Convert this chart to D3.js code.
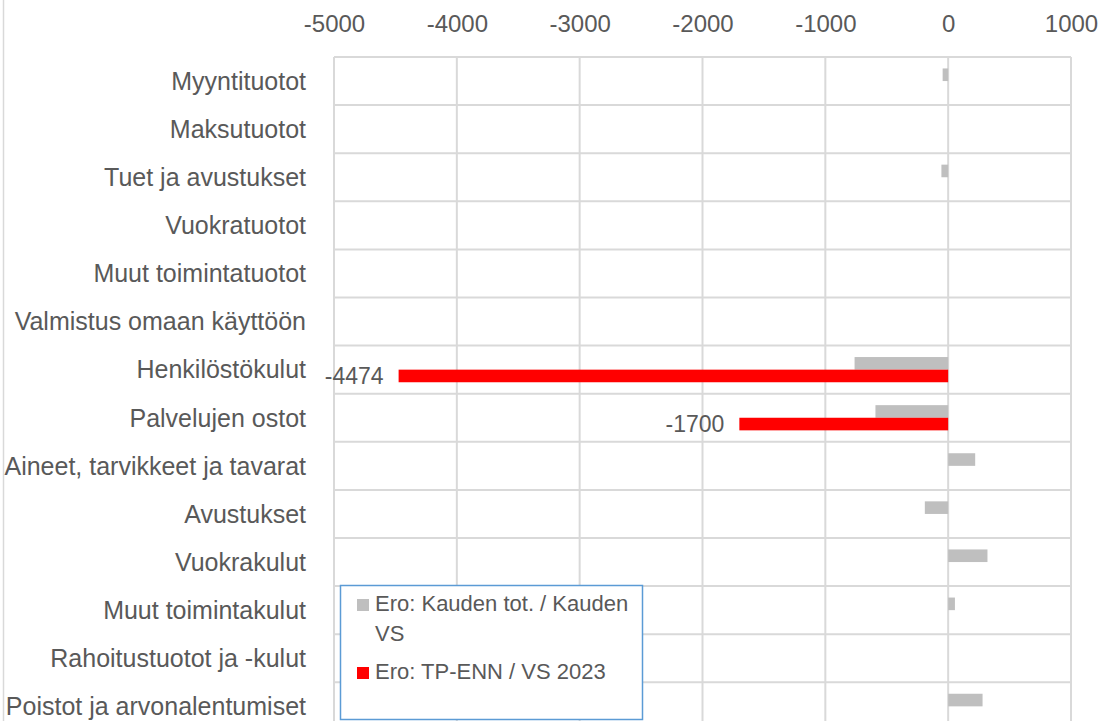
<!DOCTYPE html>
<html><head><meta charset="utf-8">
<script src="https://cdn.jsdelivr.net/npm/d3@7/dist/d3.min.js"></script>
<style>body{margin:0;background:#fff}svg{display:block}text{font-family:"Liberation Sans",Arial,sans-serif;fill:#595959}</style>
</head><body><svg id="c" width="1102" height="721"></svg>
<script>
const categories = ["Myyntituotot","Maksutuotot","Tuet ja avustukset","Vuokratuotot","Muut toimintatuotot","Valmistus omaan käyttöön","Henkilöstökulut","Palvelujen ostot","Aineet, tarvikkeet ja tavarat","Avustukset","Vuokrakulut","Muut toimintakulut","Rahoitustuotot ja -kulut","Poistot ja arvonalentumiset"];
const seriesNames = ["Ero: Kauden tot. / Kauden VS","Ero: TP-ENN / VS 2023"];
const grayValues = [-45,0,-55,0,0,0,-762,-592,220,-190,320,55,0,280];
const redValues = [0,0,0,0,0,0,-4474,-1700,0,0,0,0,0,0];
const xTicks = [-5000,-4000,-3000,-2000,-1000,0,1000];

(function(){
const svg = d3.select("#c");
const pLeft = 334, pRight = 1071, pTop = 57, rowH = 48.1;
const x = d3.scaleLinear().domain([-5000,1000]).range([pLeft,pRight]);
const y = d3.scaleBand().domain(categories).range([pTop, pTop + rowH*categories.length]).paddingInner(0).paddingOuter(0);
const barH = rowH*0.262;

svg.append("line").attr("x1",3.5).attr("x2",3.5).attr("y1",0).attr("y2",721).attr("stroke","#d9d9d9").attr("stroke-width",1.5);

const g = svg.append("g");
g.selectAll("line.v").data(xTicks).join("line").attr("class","v")
 .attr("x1",d=>x(d)).attr("x2",d=>x(d)).attr("y1",pTop).attr("y2",721)
 .attr("stroke","#d9d9d9").attr("stroke-width",2);
const hs = categories.map(c=>y(c)).concat([y(categories[categories.length-1])+y.bandwidth()]);
g.selectAll("line.h").data(hs).join("line").attr("class","h")
 .attr("x1",pLeft).attr("x2",pRight).attr("y1",d=>d).attr("y2",d=>d)
 .attr("stroke","#d9d9d9").attr("stroke-width",2);

const ax = d3.axisTop(x).tickValues(xTicks).tickSize(0).tickPadding(0).tickFormat(d=>String(d));
const axg = svg.append("g").attr("transform",`translate(0,32)`).call(ax);
axg.select(".domain").remove();
axg.selectAll("text").attr("font-size",24).attr("fill","#595959").style("font-family","'Liberation Sans',Arial,sans-serif");

svg.append("g").selectAll("text").data(categories).join("text")
 .attr("x",306).attr("y",d=>y(d)+y.bandwidth()/2).attr("dy","0.35em")
 .attr("text-anchor","end").attr("font-size",25).text(d=>d);

const z = x(0);
svg.append("g").selectAll("rect").data(grayValues).join("rect")
 .attr("x",d=>Math.min(x(d),z)).attr("width",d=>Math.abs(x(d)-z))
 .attr("y",(d,i)=>y(categories[i])+y.bandwidth()/2-barH).attr("height",barH)
 .attr("fill","#bfbfbf");
svg.append("g").selectAll("rect").data(redValues).join("rect")
 .attr("x",d=>Math.min(x(d),z)).attr("width",d=>Math.abs(x(d)-z))
 .attr("y",(d,i)=>y(categories[i])+y.bandwidth()/2).attr("height",barH)
 .attr("fill","#ff0000");
svg.append("g").selectAll("text").data(redValues.map((v,i)=>({v,i})).filter(d=>d.v!==0)).join("text")
 .attr("x",d=>x(d.v)-15).attr("y",d=>y(categories[d.i])+y.bandwidth()/2+barH/2).attr("dy","0.35em")
 .attr("text-anchor","end").attr("font-size",23).text(d=>d.v);

const lg = svg.append("g");
lg.append("rect").attr("x",340.5).attr("y",585.5).attr("width",302).attr("height",134).attr("fill","#fff").attr("stroke","#5b9bd5").attr("stroke-width",1.5);
lg.append("rect").attr("x",357).attr("y",599).attr("width",12).attr("height",12).attr("fill","#bfbfbf");
lg.append("text").attr("x",375).attr("y",611).attr("font-size",22).text("Ero: Kauden tot. / Kauden");
lg.append("text").attr("x",375).attr("y",641).attr("font-size",22).text("VS");
lg.append("rect").attr("x",357).attr("y",667).attr("width",12).attr("height",12).attr("fill","#ff0000");
lg.append("text").attr("x",375).attr("y",679).attr("font-size",22).text(seriesNames[1]);
})();
</script></body></html>
